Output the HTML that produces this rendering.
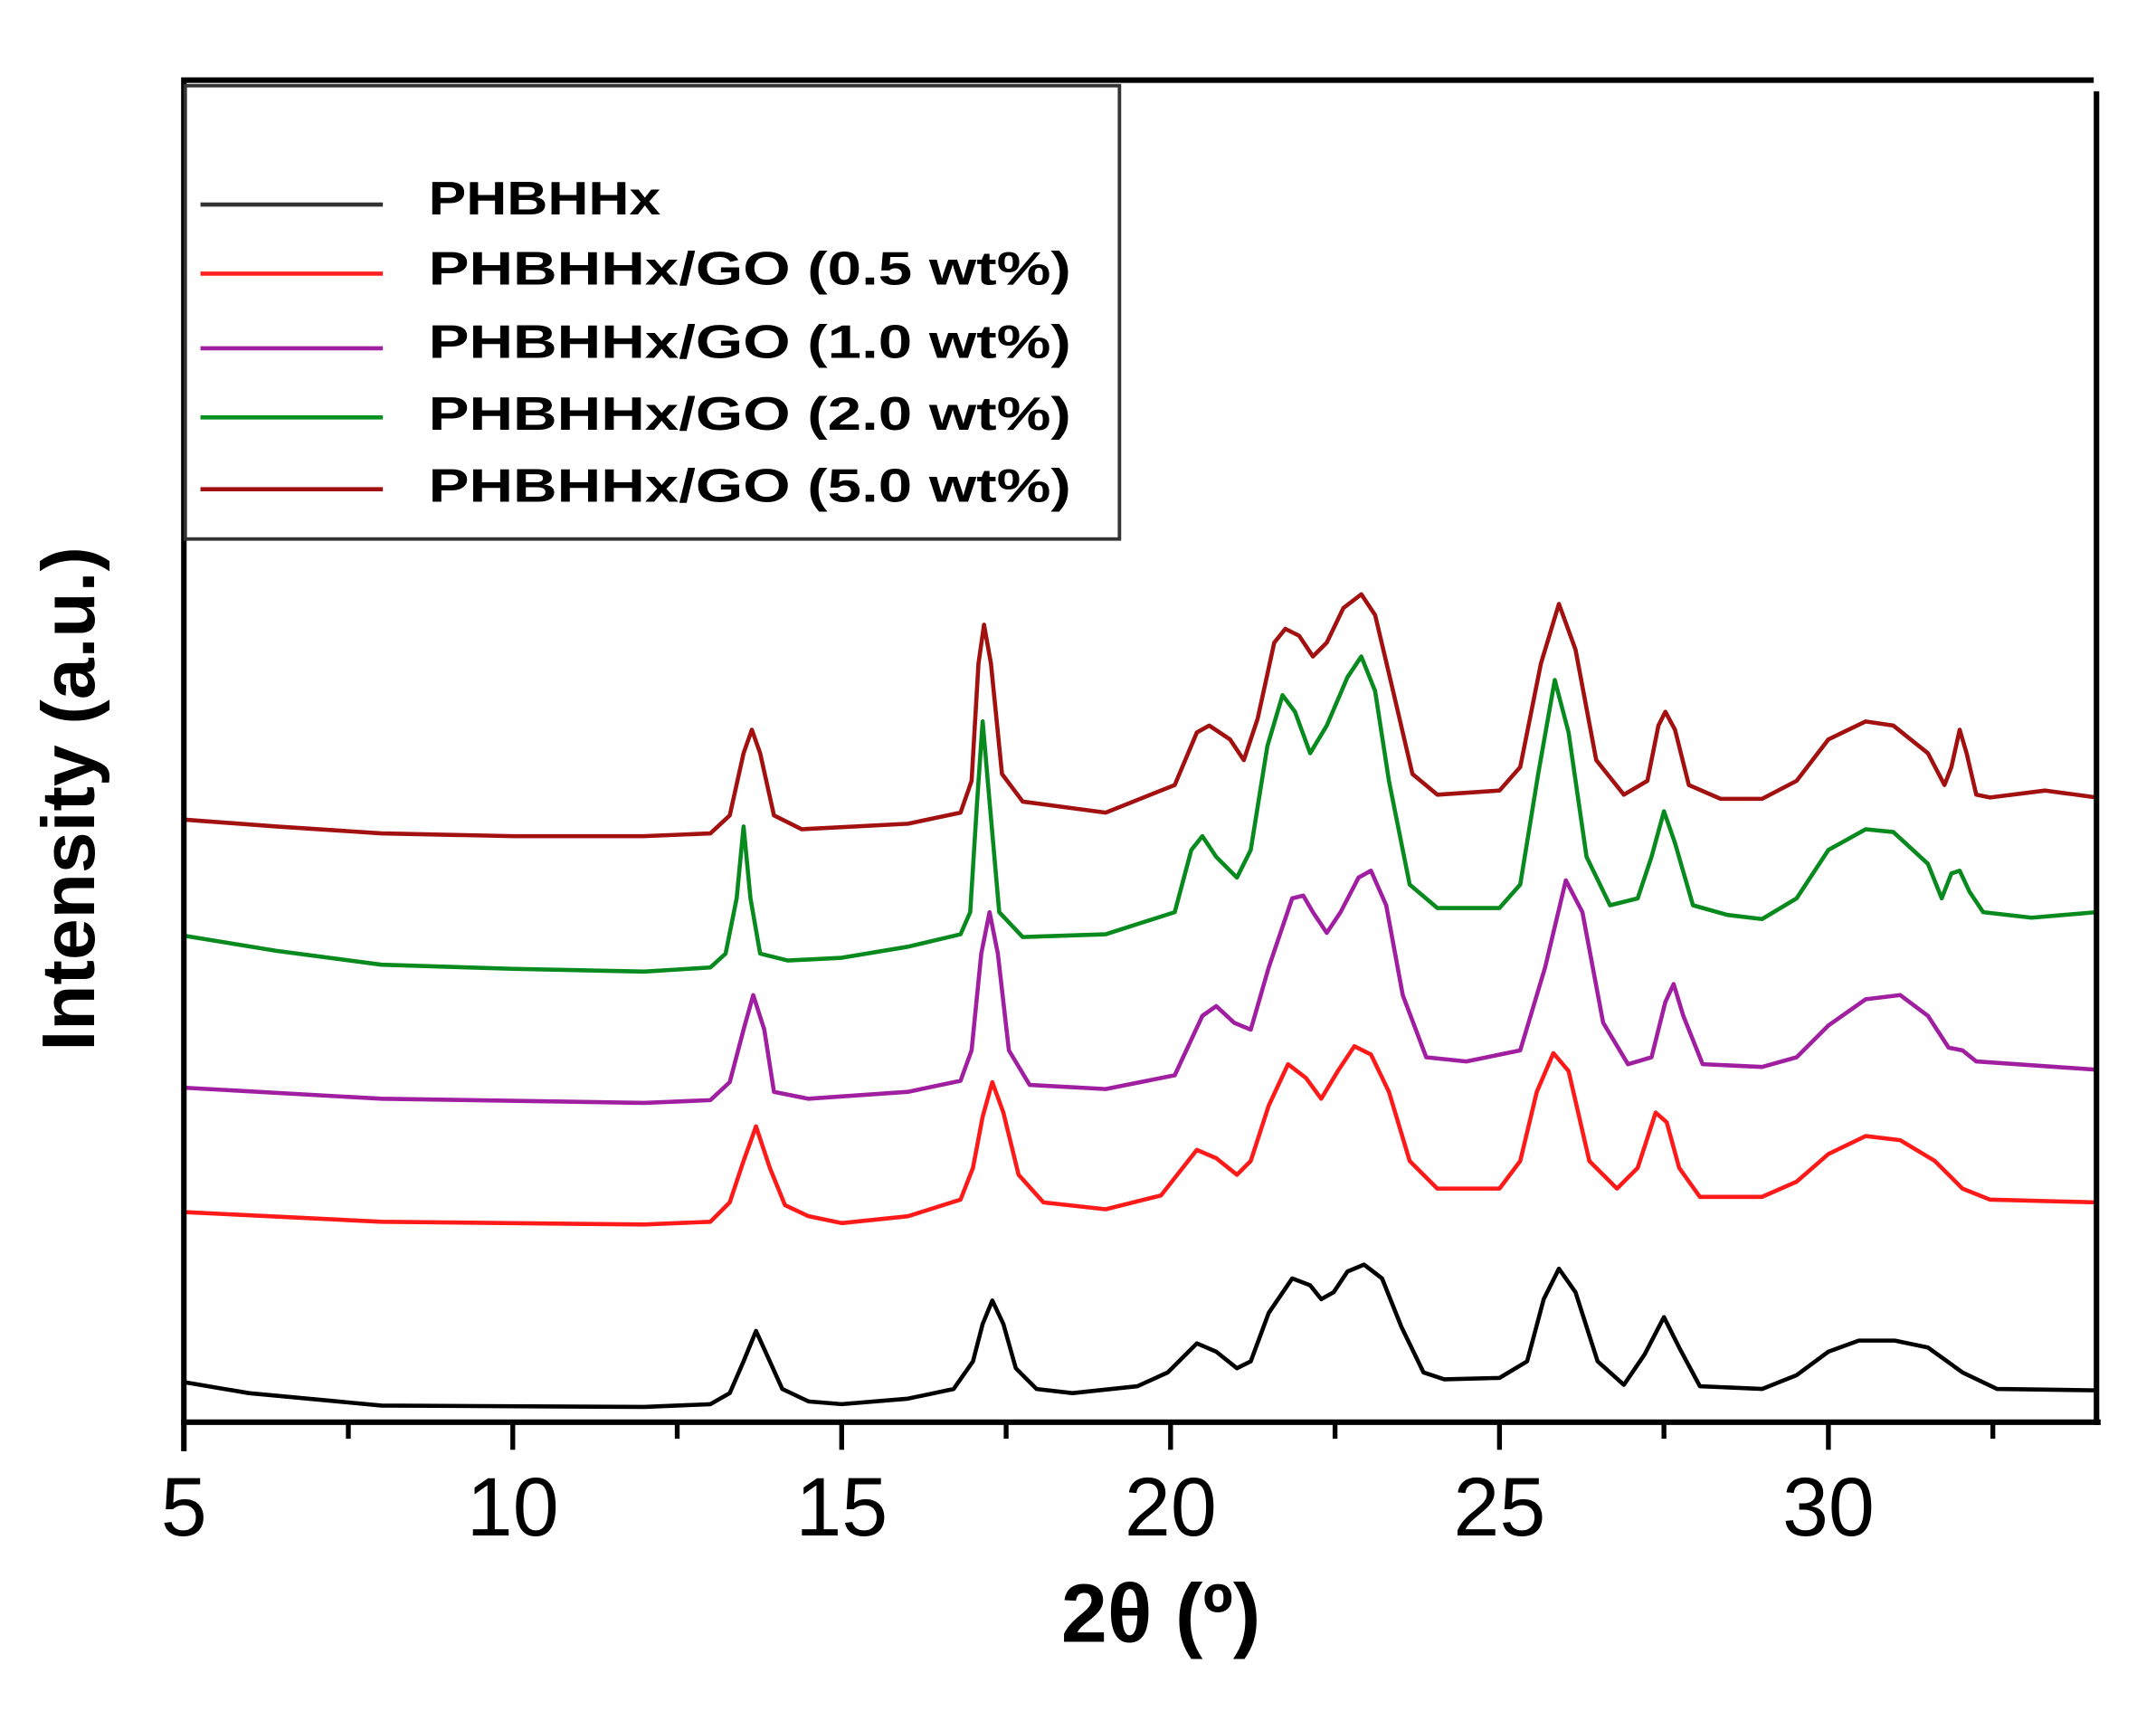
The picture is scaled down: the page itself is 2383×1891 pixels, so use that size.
<!DOCTYPE html>
<html><head><meta charset="utf-8"><style>
html,body{margin:0;padding:0;background:#fff;}
svg{display:block;}
</style></head><body>
<svg width="2383" height="1891" viewBox="0 0 1560 1238" xmlns="http://www.w3.org/2000/svg">
<rect width="1560" height="1238" fill="#fff"/>
<g fill="none" stroke-width="3" stroke-linejoin="round" stroke-linecap="round">
<polyline stroke="#000" points="133,1000 180,1008 276,1017 466,1018 514,1016 528,1008 538,985 547,963 557,985 566,1005 585,1014 609,1016 657,1012 690,1005 704,985 711,958 718,941 726,958 735,990 750,1005 776,1008 823,1003 845,993 866,972 880,978 895,990 905,985 918,950 935,925 948,930 956,940 965,935 975,920 987,915 1000,925 1014,960 1030,993 1045,998 1085,997 1105,985 1117,940 1128,918 1140,935 1156,985 1175,1002 1190,980 1204,953 1215,975 1230,1003 1275,1005 1300,995 1323,978 1345,970 1371,970 1395,975 1420,993 1445,1005 1517,1006"/>
<polyline stroke="#ff1a1a" points="133,877 276,884 466,886 514,884 528,870 538,840 547,815 557,845 568,872 585,880 609,885 657,880 695,868 704,845 711,808 718,783 726,805 737,850 755,870 800,875 840,865 866,832 880,838 895,850 905,840 918,800 932,770 945,780 956,795 968,775 980,757 992,763 1005,790 1020,840 1040,860 1085,860 1100,840 1112,790 1124,762 1135,775 1150,840 1170,860 1185,845 1198,805 1206,812 1215,845 1230,866 1275,866 1300,855 1323,835 1350,822 1375,825 1400,840 1420,860 1440,868 1517,870"/>
<polyline stroke="#a01ea0" points="133,787 276,795 466,798 514,796 528,783 538,745 545,720 553,745 560,790 585,795 657,790 695,782 703,760 710,690 716,660 722,690 730,760 745,785 800,788 850,778 870,735 880,728 893,740 905,745 918,700 935,650 943,648 950,660 960,675 970,660 983,635 992,630 1003,655 1015,720 1032,765 1061,768 1100,760 1118,700 1133,637 1145,660 1160,740 1178,770 1195,765 1205,725 1211,712 1218,735 1232,770 1275,772 1300,765 1323,742 1350,723 1375,720 1395,735 1410,758 1420,760 1430,768 1517,774"/>
<polyline stroke="#088a1e" points="133,677 200,688 276,698 371,701 466,703 514,700 525,690 533,650 538,598 543,650 550,690 570,695 609,693 657,685 695,676 702,660 707,580 711,522 716,580 723,660 740,678 800,676 850,660 862,615 870,605 880,620 895,635 905,615 917,540 928,503 937,515 948,545 960,525 975,490 985,475 995,500 1005,565 1020,640 1040,657 1085,657 1100,640 1113,560 1125,492 1135,530 1148,620 1165,655 1185,650 1195,620 1204,587 1212,610 1225,655 1250,662 1275,665 1300,650 1323,615 1350,600 1370,602 1395,625 1405,650 1412,632 1418,630 1425,645 1435,660 1470,664 1517,660"/>
<polyline stroke="#a21010" points="133,593 200,598 276,603 371,605 466,605 514,603 528,590 538,545 544,528 550,545 560,590 580,600 657,596 695,588 703,565 708,480 712,452 717,480 725,560 740,580 800,588 850,568 866,530 875,525 890,535 900,550 910,520 922,465 930,455 940,460 950,475 960,465 972,440 985,430 995,445 1008,500 1022,560 1040,575 1085,572 1100,555 1115,480 1128,437 1140,470 1155,550 1175,575 1192,565 1200,525 1205,515 1212,528 1222,568 1245,578 1275,578 1300,565 1323,535 1350,522 1370,525 1395,545 1407,568 1412,555 1418,528 1423,545 1430,575 1440,577 1480,572 1517,577"/>
</g>
<g stroke="#000" stroke-width="4" fill="none">
<line x1="133" y1="58" x2="1515" y2="58"/>
<line x1="1517" y1="66" x2="1517" y2="1031"/>
<line x1="133" y1="56" x2="133" y2="1050"/>
<line x1="131" y1="1029" x2="1520" y2="1029"/>
</g>
<g stroke="#000" stroke-width="3.5">
<line x1="252" y1="1029" x2="252" y2="1041"/>
<line x1="371" y1="1029" x2="371" y2="1049"/>
<line x1="490" y1="1029" x2="490" y2="1041"/>
<line x1="609" y1="1029" x2="609" y2="1049"/>
<line x1="728" y1="1029" x2="728" y2="1041"/>
<line x1="847" y1="1029" x2="847" y2="1049"/>
<line x1="966" y1="1029" x2="966" y2="1041"/>
<line x1="1085" y1="1029" x2="1085" y2="1049"/>
<line x1="1204" y1="1029" x2="1204" y2="1041"/>
<line x1="1323" y1="1029" x2="1323" y2="1049"/>
<line x1="1442" y1="1029" x2="1442" y2="1041"/>
</g>
<g font-family="Liberation Sans, Arial, sans-serif" font-size="60" fill="#000" text-anchor="middle">
<text x="133" y="1111">5</text>
<text x="371" y="1111">10</text>
<text x="609" y="1111">15</text>
<text x="847" y="1111">20</text>
<text x="1085" y="1111">25</text>
<text x="1323" y="1111">30</text>
</g>
<text x="840" y="1188" font-family="Liberation Sans, Arial, sans-serif" font-weight="bold" font-size="60" text-anchor="middle">2θ (º)</text>
<text transform="translate(68,578) rotate(-90)" font-family="Liberation Sans, Arial, sans-serif" font-weight="bold" font-size="54" text-anchor="middle" textLength="365" lengthAdjust="spacingAndGlyphs">Intensity (a.u.)</text>
<rect x="134" y="62" width="676" height="328" fill="#fff" stroke="#333" stroke-width="2.5"/>
<g stroke-width="3">
<line x1="145" y1="148" x2="277" y2="148" stroke="#333"/>
<line x1="145" y1="198" x2="277" y2="198" stroke="#ff2020"/>
<line x1="145" y1="252" x2="277" y2="252" stroke="#a020a0"/>
<line x1="145" y1="302" x2="277" y2="302" stroke="#089020"/>
<line x1="145" y1="354" x2="277" y2="354" stroke="#a01010"/>
</g>
<g font-family="Liberation Sans, Arial, sans-serif" font-weight="bold" font-size="34" fill="#000">
<text x="310" y="155" textLength="168" lengthAdjust="spacingAndGlyphs">PHBHHx</text>
<text x="310" y="206" textLength="465" lengthAdjust="spacingAndGlyphs">PHBHHx/GO (0.5 wt%)</text>
<text x="310" y="259" textLength="465" lengthAdjust="spacingAndGlyphs">PHBHHx/GO (1.0 wt%)</text>
<text x="310" y="311" textLength="465" lengthAdjust="spacingAndGlyphs">PHBHHx/GO (2.0 wt%)</text>
<text x="310" y="363" textLength="465" lengthAdjust="spacingAndGlyphs">PHBHHx/GO (5.0 wt%)</text>
</g>
</svg>
</body></html>
